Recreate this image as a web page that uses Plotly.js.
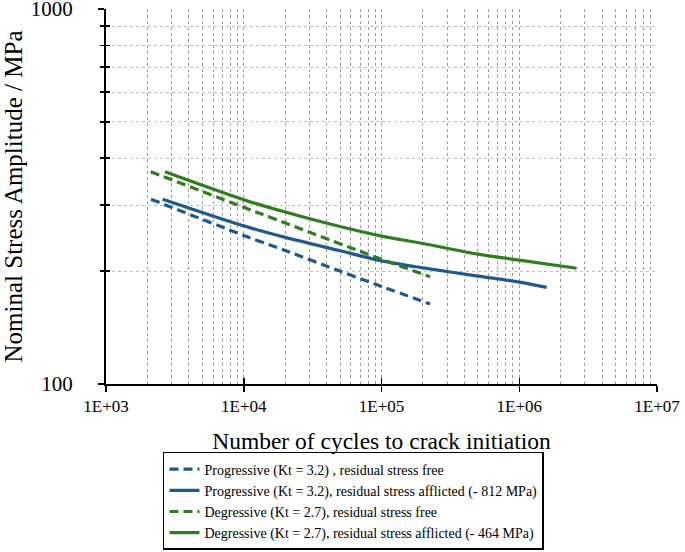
<!DOCTYPE html>
<html>
<head>
<meta charset="utf-8">
<script src="https://cdn.plot.ly/plotly-3.0.1.min.js"></script>
<style>html,body{margin:0;padding:0;background:#fff;}#chart{width:685px;height:552px;}</style>
</head>
<body>
<div id="chart"></div>
<script>
// Series (cycles, MPa)
const progFreeN = [2120, 10000, 20000, 50000, 100000, 225000];
const progFreeS = [311, 249, 227, 200, 182, 163.5];
const progResN = [2580, 10000, 20000, 50000, 100000, 200000, 500000, 1000000, 1580000];
const progResS = [311, 264, 246, 226.7, 213, 204, 194, 187, 181];
const degFreeN = [2110, 10000, 100000, 225000];
const degFreeS = [368, 296, 215, 193.3];
const degResN = [2680, 10000, 20000, 50000, 100000, 200000, 500000, 1000000, 2610000];
const degResS = [368, 310, 287.5, 263, 248, 237, 222, 214, 203.5];

const seriesNames = [
  'Progressive (Kt = 3.2) , residual stress free',
  'Progressive (Kt = 3.2), residual stress afflicted (- 812 MPa)',
  'Degressive (Kt = 2.7), residual stress free',
  'Degressive (Kt = 2.7), residual stress afflicted (- 464 MPa)'
];
const xTickVals = [1e3, 1e4, 1e5, 1e6, 1e7];
const xTickText = ['1E+03', '1E+04', '1E+05', '1E+06', '1E+07'];
const yTickVals = [100, 1000];
const yTickText = ['100', '1000'];

const BLUE = '#1f5a8f';
const GREEN = '#2e7d1e';
const FONT = "'Liberation Serif', 'Times New Roman', Times, serif";

// minor grid positions (2..9 within each decade)
const xMinor = [];
for (let d = 1e3; d < 1e7; d *= 10) for (let k = 2; k <= 9; k++) xMinor.push(k * d);
const yMinor = [];
for (let k = 2; k <= 9; k++) yMinor.push(k * 100);

function tr(x, y, name, color, dash, shape) {
  return {x: x, y: y, name: name, type: 'scatter', mode: 'lines',
    line: {color: color, width: 3.2, dash: dash, shape: shape, smoothing: 0.8}};
}

const data = [
  tr(progFreeN, progFreeS, seriesNames[0], BLUE, '9px,5px', 'spline'),
  tr(progResN, progResS, seriesNames[1], BLUE, 'solid', 'spline'),
  tr(degFreeN, degFreeS, seriesNames[2], GREEN, '9px,5px', 'spline'),
  tr(degResN, degResS, seriesNames[3], GREEN, 'solid', 'spline'),
  // invisible trace to activate inner-tick overlay axes
  {x: [1e3], y: [100], xaxis: 'x2', yaxis: 'y2', mode: 'markers', marker: {opacity: 0}, showlegend: false, hoverinfo: 'skip'}
];

const xRange = [3, 7];
const yRange = [2, 3];

const layout = {
  width: 685, height: 552,
  margin: {l: 106, r: 28, t: 9, b: 168, autoexpand: false},
  paper_bgcolor: '#fff', plot_bgcolor: '#fff',
  font: {family: FONT, color: '#000'},
  showlegend: true,
  legend: {
    x: 0.1034, y: -0.1813, xanchor: 'left', yanchor: 'top',
    bgcolor: '#fff', bordercolor: '#000', borderwidth: 1.5,
    font: {family: FONT, size: 14, color: '#000'},
    tracegroupgap: 0, itemwidth: 30
  },
  xaxis: {
    type: 'log', range: xRange, automargin: false,
    tickmode: 'array', tickvals: xTickVals, ticktext: xTickText,
    tickfont: {family: FONT, size: 17, color: '#000'},
    ticklabeloverflow: 'allow',
    ticks: 'outside', ticklen: 6, tickwidth: 1.5, tickcolor: '#000',
    showline: true, linecolor: '#000', linewidth: 2,
    showgrid: true, gridcolor: '#9a9a9a', griddash: 'dot', gridwidth: 1,
    minor: {tickmode: 'array', tickvals: xMinor, showgrid: true, gridcolor: '#9a9a9a', griddash: 'dot', gridwidth: 1, ticks: ''},
    zeroline: false,
    title: {text: 'Number of cycles to crack initiation', font: {family: FONT, size: 23.5, color: '#000'}, standoff: 17}
  },
  yaxis: {
    type: 'log', range: yRange, automargin: false,
    tickmode: 'array', tickvals: yTickVals, ticktext: yTickText,
    tickfont: {family: FONT, size: 21, color: '#000'},
    ticklabeloverflow: 'allow', ticklabelstandoff: 21,
    ticks: 'outside', ticklen: 6, tickwidth: 1.5, tickcolor: '#000',
    showline: true, linecolor: '#000', linewidth: 2,
    showgrid: true, gridcolor: '#c8c8c8', gridwidth: 1,
    minor: {tickmode: 'array', tickvals: yMinor, showgrid: true, gridcolor: '#bdbdbd', griddash: 'dot', gridwidth: 1,
            ticks: 'outside', ticklen: 4, tickwidth: 1.5, tickcolor: '#000'},
    zeroline: false,
    title: {text: 'Nominal Stress Amplitude / MPa', font: {family: FONT, size: 25, color: '#000'}, standoff: 3}
  },
  xaxis2: {
    type: 'log', range: xRange, overlaying: 'x', anchor: 'y2', automargin: false,
    tickmode: 'array', tickvals: xTickVals, showticklabels: false,
    ticks: 'inside', ticklen: 6, tickwidth: 1.5, tickcolor: '#000',
    showgrid: false, showline: false, zeroline: false
  },
  yaxis2: {
    type: 'log', range: yRange, overlaying: 'y', anchor: 'x2', automargin: false,
    tickmode: 'array', tickvals: yTickVals, showticklabels: false,
    ticks: 'inside', ticklen: 6, tickwidth: 1.5, tickcolor: '#000',
    minor: {tickmode: 'array', tickvals: yMinor, ticks: 'inside', ticklen: 4, tickwidth: 1.5, tickcolor: '#000', showgrid: false},
    showgrid: false, showline: false, zeroline: false
  }
};

Plotly.newPlot('chart', data, layout, {displayModeBar: false, staticPlot: true});
</script>
</body>
</html>
